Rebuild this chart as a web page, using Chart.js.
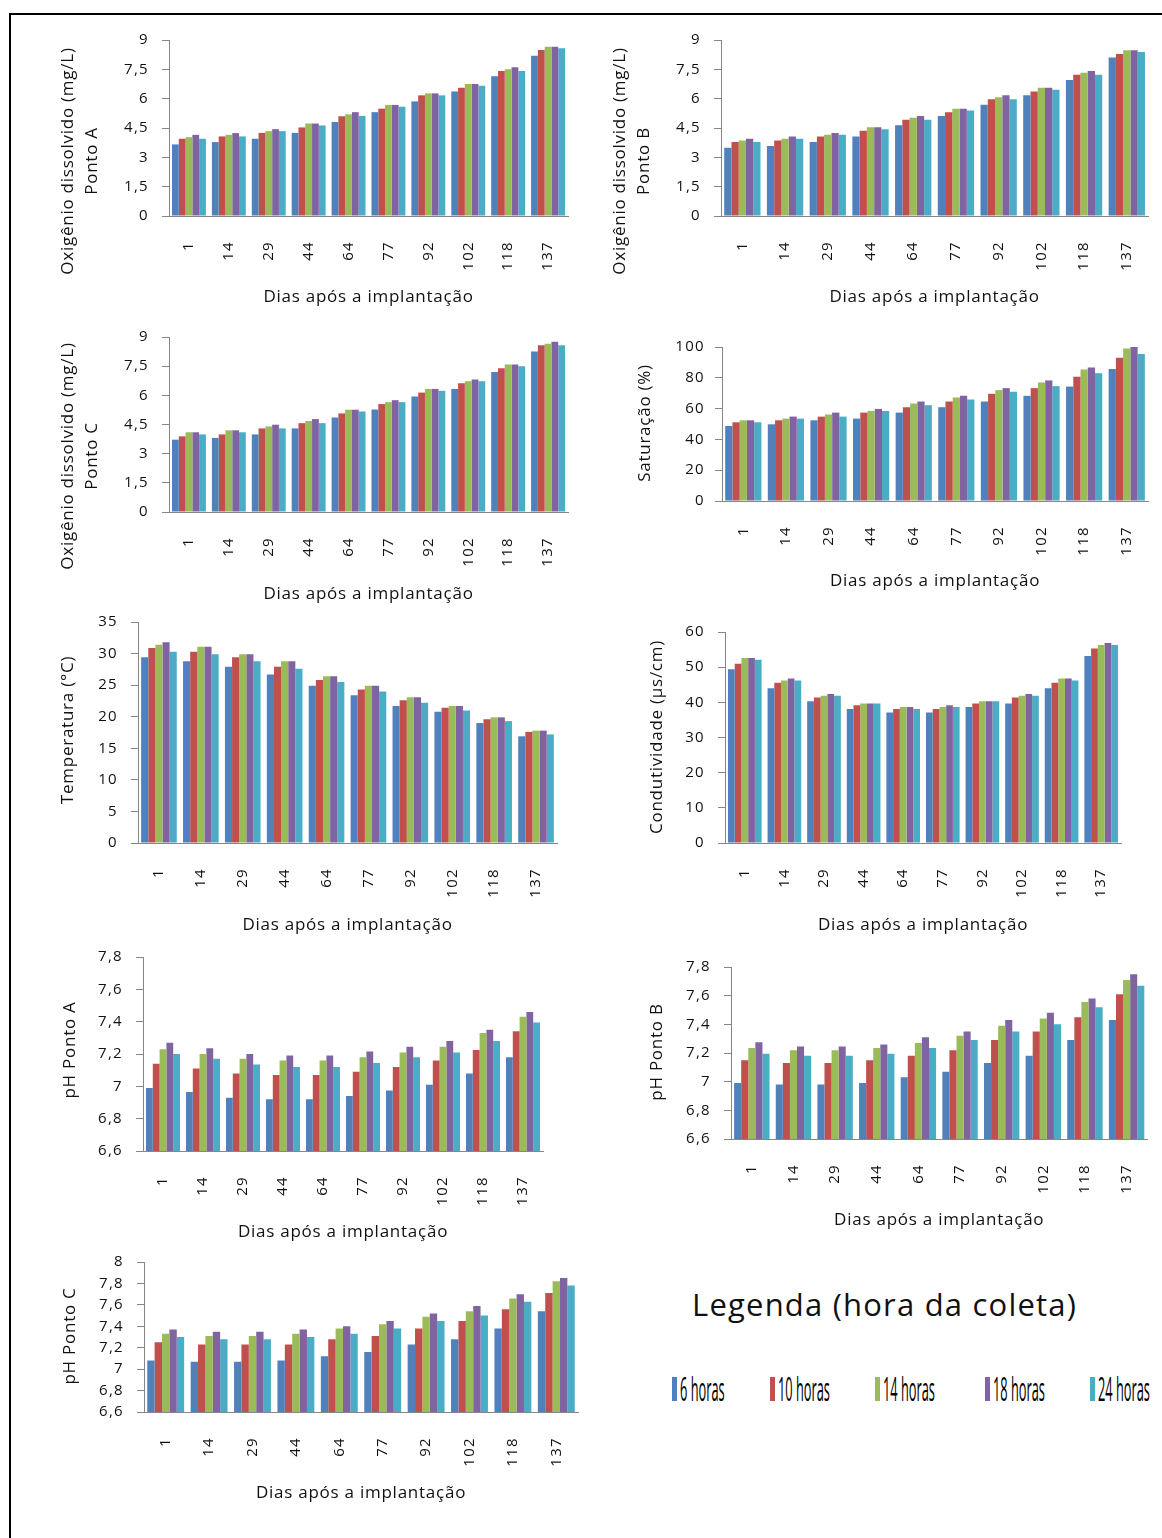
<!DOCTYPE html>
<html lang="pt">
<head>
<meta charset="utf-8">
<title>Parâmetros de qualidade da água</title>
<script src="https://cdn.jsdelivr.net/npm/chart.js@4/dist/chart.umd.min.js"></script>
<style>
  html, body { margin: 0; padding: 0; background: #fff; }
  body { width: 1162px; height: 1538px; position: relative; overflow: hidden; font-family: "Open Sans", sans-serif; }
  .frame { position: absolute; left: 9px; top: 13px; width: 1300px; height: 1700px;
           border-left: 2px solid #000; border-top: 2px solid #000; box-sizing: border-box; }
  canvas { position: absolute; }
  .legend-title { position: absolute; left: 692px; top: 1289px; font-size: 31px; line-height: 31px;
                  letter-spacing: 1.2px; color: #111; white-space: nowrap; }
  .legend-mark { position: absolute; width: 5px; height: 24px; top: 1377px; }
  .legend-label { position: absolute; top: 1373px; font-size: 32px; line-height: 32px; color: #000;
                  white-space: nowrap; transform: scaleX(0.4); transform-origin: 0 0; }
</style>
</head>
<body>
<div class="frame"></div>
<div id="legend"></div>
<script>
// ---- categories and series ----
const days = ['1', '14', '29', '44', '64', '77', '92', '102', '118', '137'];
const seriesNames = ['6 horas', '10 horas', '14 horas', '18 horas', '24 horas'];
const seriesColors = ['#4F81BD', '#C0504D', '#9BBB59', '#8064A2', '#4BACC6'];

// one row per collection hour (6, 10, 14, 18, 24 h)
const odPontoA = [
  [3.66, 3.78, 3.95, 4.25, 4.81, 5.31, 5.86, 6.37, 7.14, 8.19],
  [3.95, 4.07, 4.25, 4.53, 5.10, 5.49, 6.17, 6.56, 7.42, 8.49],
  [4.03, 4.15, 4.34, 4.73, 5.20, 5.68, 6.27, 6.75, 7.51, 8.66],
  [4.15, 4.24, 4.44, 4.73, 5.31, 5.68, 6.27, 6.75, 7.61, 8.66],
  [3.95, 4.07, 4.34, 4.63, 5.12, 5.59, 6.17, 6.66, 7.42, 8.58]
];
const odPontoB = [
  [3.49, 3.58, 3.78, 4.07, 4.64, 5.12, 5.69, 6.17, 6.95, 8.10],
  [3.78, 3.86, 4.07, 4.36, 4.92, 5.31, 5.97, 6.37, 7.22, 8.29],
  [3.86, 3.95, 4.15, 4.54, 5.02, 5.49, 6.07, 6.56, 7.32, 8.47],
  [3.95, 4.07, 4.25, 4.54, 5.12, 5.49, 6.17, 6.56, 7.42, 8.47],
  [3.78, 3.95, 4.15, 4.44, 4.92, 5.39, 5.97, 6.46, 7.22, 8.39]
];
const odPontoC = [
  [3.72, 3.81, 3.99, 4.30, 4.86, 5.27, 5.94, 6.33, 7.20, 8.26],
  [3.89, 3.99, 4.30, 4.57, 5.07, 5.55, 6.14, 6.62, 7.39, 8.57],
  [4.10, 4.20, 4.40, 4.68, 5.26, 5.65, 6.33, 6.72, 7.59, 8.65],
  [4.10, 4.20, 4.49, 4.78, 5.26, 5.75, 6.33, 6.81, 7.59, 8.75],
  [3.99, 4.10, 4.30, 4.57, 5.17, 5.65, 6.23, 6.72, 7.49, 8.57]
];
const saturacao = [
  [48.7, 49.8, 52.4, 53.5, 57.4, 60.9, 64.6, 68.3, 74.3, 85.7],
  [51.1, 52.4, 54.8, 57.4, 60.9, 64.6, 69.6, 73.3, 80.7, 93.0],
  [52.4, 53.5, 56.1, 58.5, 63.3, 67.2, 72.0, 77.0, 85.4, 99.1],
  [52.4, 54.8, 57.4, 59.8, 64.6, 68.3, 73.3, 78.3, 86.7, 100],
  [51.1, 53.5, 54.8, 58.5, 62.2, 65.9, 70.9, 74.6, 83.0, 95.4]
];
const temperatura = [
  [29.4, 28.8, 27.9, 26.7, 24.9, 23.4, 21.7, 20.8, 19.0, 16.9],
  [30.9, 30.3, 29.4, 27.9, 25.8, 24.3, 22.6, 21.4, 19.6, 17.6],
  [31.4, 31.1, 29.9, 28.8, 26.4, 24.9, 23.1, 21.7, 19.9, 17.8],
  [31.8, 31.1, 29.9, 28.8, 26.4, 24.9, 23.1, 21.7, 19.9, 17.8],
  [30.3, 29.9, 28.8, 27.6, 25.5, 24.0, 22.2, 21.0, 19.3, 17.2]
];
const condutividade = [
  [49.4, 44.0, 40.3, 38.1, 37.1, 37.1, 38.7, 39.7, 44.0, 53.2],
  [51.0, 45.6, 41.4, 39.2, 38.1, 38.1, 39.7, 41.4, 45.6, 55.3],
  [52.6, 46.2, 41.9, 39.7, 38.7, 38.7, 40.3, 41.9, 46.8, 56.3],
  [52.6, 46.8, 42.4, 39.7, 38.7, 39.2, 40.3, 42.4, 46.8, 56.9],
  [52.1, 46.2, 41.9, 39.7, 38.1, 38.7, 40.3, 41.9, 46.2, 56.3]
];
const phPontoA = [
  [6.99, 6.965, 6.93, 6.92, 6.92, 6.94, 6.975, 7.01, 7.08, 7.18],
  [7.14, 7.11, 7.08, 7.07, 7.07, 7.09, 7.12, 7.16, 7.225, 7.34],
  [7.23, 7.20, 7.17, 7.16, 7.16, 7.18, 7.21, 7.245, 7.33, 7.43],
  [7.27, 7.235, 7.20, 7.19, 7.19, 7.215, 7.245, 7.28, 7.35, 7.46],
  [7.20, 7.17, 7.135, 7.12, 7.12, 7.145, 7.18, 7.21, 7.28, 7.395]
];
const phPontoB = [
  [6.99, 6.98, 6.98, 6.99, 7.03, 7.07, 7.13, 7.18, 7.29, 7.43],
  [7.15, 7.13, 7.13, 7.15, 7.18, 7.22, 7.29, 7.35, 7.45, 7.61],
  [7.235, 7.22, 7.22, 7.235, 7.27, 7.32, 7.39, 7.44, 7.555, 7.71],
  [7.275, 7.245, 7.245, 7.26, 7.31, 7.35, 7.43, 7.48, 7.58, 7.75],
  [7.195, 7.18, 7.18, 7.195, 7.235, 7.29, 7.35, 7.40, 7.52, 7.67]
];
const phPontoC = [
  [7.08, 7.07, 7.07, 7.08, 7.12, 7.16, 7.23, 7.28, 7.38, 7.54],
  [7.25, 7.23, 7.23, 7.23, 7.28, 7.31, 7.38, 7.45, 7.56, 7.71],
  [7.33, 7.31, 7.31, 7.33, 7.38, 7.42, 7.49, 7.54, 7.66, 7.82],
  [7.37, 7.35, 7.35, 7.37, 7.40, 7.45, 7.52, 7.59, 7.70, 7.85],
  [7.30, 7.28, 7.28, 7.30, 7.33, 7.38, 7.45, 7.50, 7.63, 7.78]
];

// ---- shared styling ----
const FONT = '"Open Sans", sans-serif';
const TEXT = '#111';
const AXIS = '#868686';
const X_TITLE = 'Dias após a implantação';

// decimal comma, as in the Portuguese labels
const fmt = v => String(Math.round(v * 100) / 100).replace('.', ',');

// slightly open tracking for the tick labels
Chart.register({
  id: 'tickTracking',
  beforeDraw(chart) { chart.ctx.letterSpacing = '1.3px'; }
});

// draws the axis titles at fixed spots of each panel
Chart.register({
  id: 'panelTitles',
  afterDraw(chart, args, o) {
    if (!o || !o.yLines) return;
    const ctx = chart.ctx;
    ctx.save();
    ctx.fillStyle = TEXT;
    ctx.font = '17px ' + FONT;
    ctx.letterSpacing = '0.75px';
    ctx.textAlign = 'center';
    ctx.textBaseline = 'middle';
    o.yLines.forEach((line, i) => {
      ctx.save();
      ctx.translate(o.yXs[i], o.yCenter);
      ctx.rotate(-Math.PI / 2);
      ctx.fillText(line, 0, 0);
      ctx.restore();
    });
    const a = chart.chartArea;
    ctx.fillText(X_TITLE, (a.left + a.right) / 2, o.xY);
    ctx.restore();
  }
});

// page-space layout of each panel: canvas box, plot box, title spots
function panel(rows, cv, plot, y, titles) {
  const c = document.createElement('canvas');
  const w = cv.r - cv.l, h = cv.b - cv.t;
  c.width = w; c.height = h;
  c.style.left = cv.l + 'px'; c.style.top = cv.t + 'px';
  c.style.width = w + 'px'; c.style.height = h + 'px';
  document.body.appendChild(c);

  const yW = plot.l - cv.l, xH = cv.b - plot.b;
  new Chart(c, {
    type: 'bar',
    data: {
      labels: days,
      datasets: rows.map((vals, i) => ({
        label: seriesNames[i], data: vals, backgroundColor: seriesColors[i],
        borderWidth: 0, barPercentage: 1, categoryPercentage: 0.85
      }))
    },
    options: {
      responsive: false, animation: false, devicePixelRatio: 1,
      layout: { padding: { top: plot.t - cv.t, right: cv.r - plot.r, left: 0, bottom: 0 } },
      plugins: {
        legend: { display: false }, tooltip: { enabled: false },
        panelTitles: {
          yLines: titles.lines, yXs: titles.xs.map(x => x - cv.l),
          yCenter: titles.cy - cv.t, xY: titles.xy - cv.t
        }
      },
      scales: {
        x: {
          grid: { display: false },
          border: { color: AXIS, width: 1 },
          ticks: { font: { family: FONT, size: 15 }, color: TEXT, minRotation: 90, maxRotation: 90,
                   padding: 17, autoSkip: false },
          afterFit: s => { s.height = xH; }
        },
        y: {
          min: y.min, max: y.max,
          grid: { drawOnChartArea: false, drawTicks: true, tickLength: 7, color: AXIS },
          border: { color: AXIS, width: 1 },
          ticks: { stepSize: y.step, font: { family: FONT, size: 15 }, color: TEXT,
                   padding: y.pad || 13, callback: fmt },
          afterFit: s => { s.width = yW; }
        }
      }
    }
  });
}

const OD = 'Oxigênio dissolvido (mg/L)';

panel(odPontoA, { l: 40, t: 18, r: 585, b: 320 }, { l: 169, t: 39, r: 568, b: 216 },
      { min: 0, max: 9, step: 1.5 },
      { lines: [OD, 'Ponto A'], xs: [68, 92], cy: 161, xy: 297 });

panel(odPontoB, { l: 600, t: 18, r: 1162, b: 320 }, { l: 721, t: 39, r: 1158, b: 216 },
      { min: 0, max: 9, step: 1.5 },
      { lines: [OD, 'Ponto B'], xs: [620, 644], cy: 161, xy: 297 });

panel(odPontoC, { l: 40, t: 315, r: 585, b: 615 }, { l: 169, t: 336, r: 568, b: 512 },
      { min: 0, max: 9, step: 1.5 },
      { lines: [OD, 'Ponto C'], xs: [68, 92], cy: 456, xy: 594 });

panel(saturacao, { l: 620, t: 325, r: 1162, b: 600 }, { l: 722, t: 347, r: 1157, b: 501 },
      { min: 0, max: 100, step: 20, pad: 10 },
      { lines: ['Saturação (%)'], xs: [645], cy: 423, xy: 581 });

panel(temperatura, { l: 40, t: 600, r: 580, b: 945 }, { l: 138, t: 620, r: 557, b: 843 },
      { min: 0, max: 35, step: 5 },
      { lines: ['Temperatura (°C)'], xs: [68], cy: 730, xy: 925 });

panel(condutividade, { l: 620, t: 610, r: 1150, b: 945 }, { l: 725, t: 631, r: 1121, b: 843 },
      { min: 0, max: 60, step: 10 },
      { lines: ['Condutividade (µs/cm)'], xs: [657], cy: 737, xy: 925 });

panel(phPontoA, { l: 40, t: 935, r: 570, b: 1250 }, { l: 143, t: 951, r: 543, b: 1151 },
      { min: 6.6, max: 7.8, step: 0.2 },
      { lines: ['pH Ponto A'], xs: [70], cy: 1050, xy: 1232 });

panel(phPontoB, { l: 620, t: 945, r: 1162, b: 1240 }, { l: 731, t: 962, r: 1154, b: 1139 },
      { min: 6.6, max: 7.8, step: 0.2 },
      { lines: ['pH Ponto B'], xs: [657], cy: 1052, xy: 1220 });

panel(phPontoC, { l: 40, t: 1240, r: 600, b: 1510 }, { l: 144, t: 1258, r: 578, b: 1412 },
      { min: 6.6, max: 8, step: 0.2 },
      { lines: ['pH Ponto C'], xs: [70], cy: 1336, xy: 1493 });

// ---- shared legend ----
const legendX = [672, 770, 875, 985, 1090];
const legend = document.getElementById('legend');
const title = document.createElement('div');
title.className = 'legend-title';
title.textContent = 'Legenda (hora da coleta)';
legend.appendChild(title);
seriesNames.forEach((name, i) => {
  const m = document.createElement('div');
  m.className = 'legend-mark';
  m.style.left = legendX[i] + 'px';
  m.style.background = seriesColors[i];
  legend.appendChild(m);
  const t = document.createElement('div');
  t.className = 'legend-label';
  t.style.left = (legendX[i] + 8) + 'px';
  t.textContent = name;
  legend.appendChild(t);
});
</script>
</body>
</html>
